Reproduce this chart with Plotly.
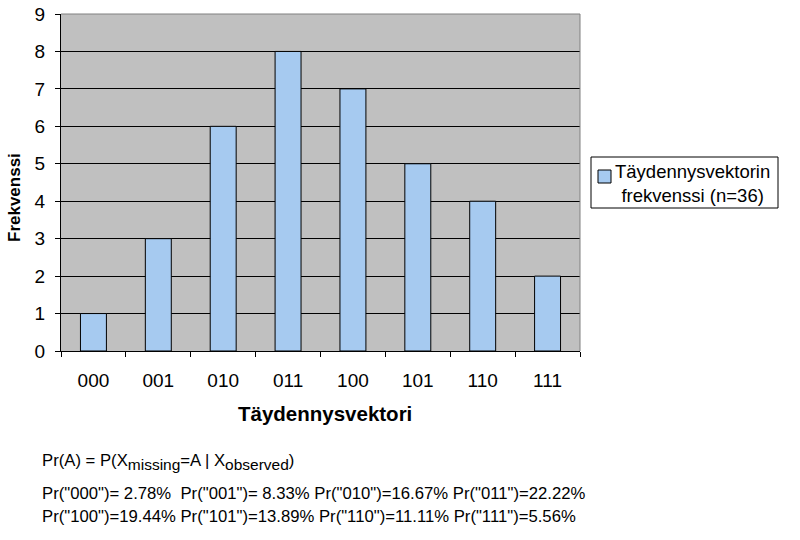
import plotly.graph_objects as go

categories = ["000", "001", "010", "011", "100", "101", "110", "111"]
frequencies = [1, 3, 6, 8, 7, 5, 4, 2]
series_name = "Täydennysvektorin<br>frekvenssi (n=36)"
y_ticks = [0, 1, 2, 3, 4, 5, 6, 7, 8, 9]
x_title = "Täydennysvektori"
y_title = "Frekvenssi"
prob_line1 = 'Pr("000")= 2.78%  Pr("001")= 8.33% Pr("010")=16.67% Pr("011")=22.22%'
prob_line2 = 'Pr("100")=19.44% Pr("101")=13.89% Pr("110")=11.11% Pr("111")=5.56%'
formula = ("Pr(A) = P(X<sub><span style='font-size:15.5px'>missing</span></sub>=A | "
           "X<sub><span style='font-size:15.5px'>observed</span></sub>)")

FONT = "Liberation Sans, Arial, sans-serif"
BAR_COLOR = "#A6CAF0"

fig = go.Figure()
fig.add_trace(go.Bar(
    x=categories, y=frequencies, name=series_name,
    marker=dict(color=BAR_COLOR, line=dict(color="black", width=1)),
    width=0.4, showlegend=False,
))

L, R, T, B = 61, 220, 14, 189
plot_h = 540 - T - B
plot_w = 800 - L - R

def py(y):
    return (540 - B - y) / plot_h

def px(x):
    return (x - L) / plot_w

fig.update_layout(
    width=800, height=540,
    margin=dict(l=L, r=R, t=T, b=B, autoexpand=False),
    paper_bgcolor="white", plot_bgcolor="#C0C0C0",
    font=dict(family=FONT, color="black", size=16),
    bargap=0.6,
    showlegend=False,
    xaxis=dict(
        type="category", tickson="boundaries", ticks="outside", ticklen=5,
        tickcolor="black", showline=True, linecolor="black", linewidth=1,
        showgrid=False, tickfont=dict(size=19), ticklabelstandoff=12,
        automargin=False,
    ),
    yaxis=dict(
        range=[0, 9], tickvals=y_ticks, ticks="outside", ticklen=5,
        tickcolor="black", showline=True, linecolor="black", linewidth=1,
        showgrid=True, gridcolor="black", gridwidth=1, zeroline=False,
        tickfont=dict(size=19), ticklabelstandoff=6,
        automargin=False,
    ),
    shapes=[
        dict(type="line", xref="paper", yref="paper", x0=0, x1=1, y0=1, y1=1,
             line=dict(color="#808080", width=1)),
        dict(type="line", xref="paper", yref="paper", x0=1, x1=1, y0=0, y1=1,
             line=dict(color="#808080", width=1)),
        # legend box
        dict(type="rect", xref="paper", yref="paper", x0=px(591), x1=px(778),
             y0=py(208), y1=py(157), line=dict(color="black", width=1),
             fillcolor="white"),
        dict(type="rect", xref="paper", yref="paper", x0=px(598), x1=px(611),
             y0=py(183), y1=py(170), line=dict(color="black", width=1),
             fillcolor=BAR_COLOR),
    ],
    annotations=[
        dict(text=series_name, xref="paper", yref="paper", x=px(692), y=py(183),
             xanchor="center", yanchor="middle", align="center", showarrow=False,
             font=dict(size=18.5)),
        dict(text="<b>" + x_title + "</b>", xref="paper", yref="paper",
             x=px(325), y=py(414), xanchor="center", yanchor="middle",
             showarrow=False, font=dict(size=20.5)),
        dict(text="<b>" + y_title + "</b>", xref="paper", yref="paper",
             x=px(14), y=py(198), xanchor="center", yanchor="middle",
             textangle=-90, showarrow=False, font=dict(size=17)),
        dict(text=formula, xref="paper", yref="paper", x=px(40), y=py(462),
             xanchor="left", yanchor="middle", showarrow=False, font=dict(size=16.7)),
        dict(text=prob_line1, xref="paper", yref="paper", x=px(40), y=py(493),
             xanchor="left", yanchor="middle", showarrow=False, font=dict(size=16.7)),
        dict(text=prob_line2, xref="paper", yref="paper", x=px(40), y=py(516),
             xanchor="left", yanchor="middle", showarrow=False, font=dict(size=16.7)),
    ],
)

fig.write_html("out.html")
